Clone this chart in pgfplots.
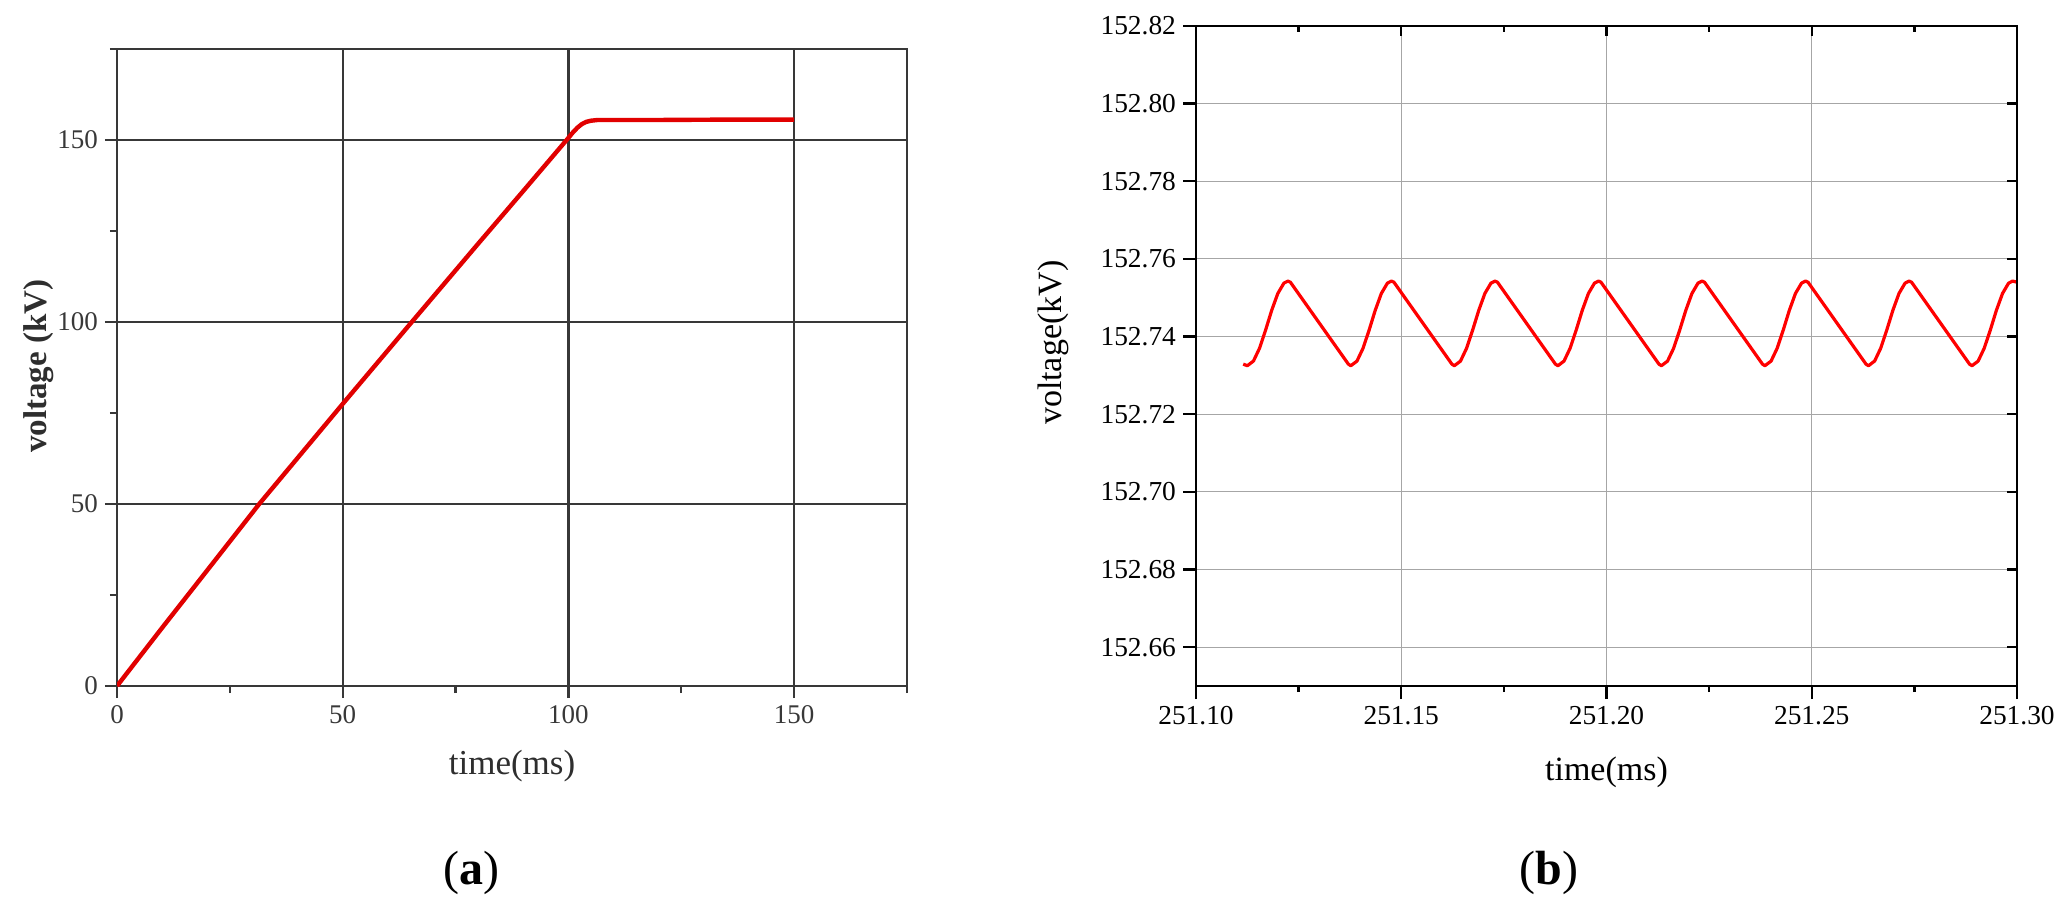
\documentclass[border=0pt]{standalone}
\usepackage{fontspec}
\setmainfont{Liberation Serif}
\usepackage{pgfplots}
\pgfplotsset{compat=1.18}
\begin{document}
\begin{tikzpicture}
\path[use as bounding box] (0,0) rectangle (1034pt,456pt);
% ---------------- (a) ----------------
\begin{axis}[
  at={(58.5pt,113pt)}, anchor=south west, scale only axis,
  width=395pt, height=318.5pt,
  xmin=0, xmax=175, ymin=0, ymax=175,
  xtick={0,50,100,150}, ytick={0,50,100,150},
  minor xtick={25,75,125,175}, minor ytick={25,75,125,175},
  xtick pos=left, ytick pos=left, tick align=outside,
  major tick length=6pt, minor tick length=3.5pt,
  grid=major,
  major grid style={line width=1.2pt, black!78},
  axis line style={line width=1.3pt, black!78},
  tick style={line width=1.2pt, black!78},
  /pgf/number format/assume math mode=true,
  tick label style={font=\fontsize{13.5}{15}\selectfont, text=black!78},
  xlabel={time(ms)},
  xlabel style={at={(axis description cs:0.5,-0.1256)}, anchor=center,
                font=\fontsize{17.5}{20}\selectfont, text=black!82},
  ylabel={\textbf{voltage (kV)}},
  ylabel style={at={(axis description cs:-0.0987,0.502)}, anchor=center,
                font=\fontsize{16.5}{20}\selectfont, text=black!82},
]
\addplot[color={rgb,255:red,225;green,0;blue,0}, line width=2.2pt] coordinates {
(0,0) (10,16) (20,31.8) (31.5,50) (50,77.5) (65.3,100) (80,121.5) (90,136)
(99.6,150) (101,152.1) (102,153.4) (103,154.4) (104,155.0) (105,155.3)
(106.5,155.5) (120,155.5) (135,155.6) (150,155.6)
};
\end{axis}
% ---------------- (b) ----------------
% time stored as (t - 251.10) ms, voltage as (V - 152.70) kV (ticks labelled with real values)
\begin{axis}[
  at={(598pt,113pt)}, anchor=south west, scale only axis,
  width=410.5pt, height=330pt,
  xmin=0, xmax=0.2, ymin=-0.05, ymax=0.12,
  xtick={0,0.05,0.1,0.15,0.2},
  xticklabels={251.10,251.15,251.20,251.25,251.30},
  minor xtick={0.025,0.075,0.125,0.175},
  ytick={-0.04,-0.02,0,0.02,0.04,0.06,0.08,0.1,0.12},
  yticklabels={152.66,152.68,152.70,152.72,152.74,152.76,152.78,152.80,152.82},
  xtick pos=left, ytick pos=left, tick align=outside,
  major tick length=6.5pt, minor tick length=3pt,
  grid=major,
  major grid style={line width=0.5pt, black!35},
  axis line style={line width=1.2pt, black},
  tick style={line width=1.2pt, black},
  tick label style={font=\fontsize{13.7}{16}\selectfont},
  xlabel={time(ms)},
  xlabel style={at={(axis description cs:0.5,-0.1303)}, anchor=center,
                font=\fontsize{17}{20}\selectfont},
  ylabel={voltage(kV)},
  ylabel style={at={(axis description cs:-0.1742,0.52)}, anchor=center,
                font=\fontsize{17}{20}\selectfont},
]
\addplot[color={rgb,255:red,255;green,0;blue,0}, line width=1.6pt, line join=round] coordinates {
(0.01150,0.03290)
(0.01250,0.03250) (0.01399,0.03369) (0.01547,0.03699) (0.01696,0.04170) (0.01844,0.04677) (0.01993,0.05111) (0.02141,0.05377) (0.02240,0.05430) (0.02300,0.05400) (0.03712,0.03290)
(0.03772,0.03250) (0.03921,0.03369) (0.04069,0.03699) (0.04218,0.04170) (0.04366,0.04677) (0.04515,0.05111) (0.04663,0.05377) (0.04762,0.05430) (0.04822,0.05400) (0.06234,0.03290)
(0.06294,0.03250) (0.06443,0.03369) (0.06591,0.03699) (0.06740,0.04170) (0.06888,0.04677) (0.07037,0.05111) (0.07185,0.05377) (0.07284,0.05430) (0.07344,0.05400) (0.08756,0.03290)
(0.08816,0.03250) (0.08965,0.03369) (0.09113,0.03699) (0.09262,0.04170) (0.09410,0.04677) (0.09559,0.05111) (0.09707,0.05377) (0.09806,0.05430) (0.09866,0.05400) (0.11278,0.03290)
(0.11338,0.03250) (0.11487,0.03369) (0.11635,0.03699) (0.11784,0.04170) (0.11932,0.04677) (0.12081,0.05111) (0.12229,0.05377) (0.12328,0.05430) (0.12388,0.05400) (0.13800,0.03290)
(0.13860,0.03250) (0.14009,0.03369) (0.14157,0.03699) (0.14306,0.04170) (0.14454,0.04677) (0.14603,0.05111) (0.14751,0.05377) (0.14850,0.05430) (0.14910,0.05400) (0.16322,0.03290)
(0.16382,0.03250) (0.16531,0.03369) (0.16679,0.03699) (0.16828,0.04170) (0.16976,0.04677) (0.17125,0.05111) (0.17273,0.05377) (0.17372,0.05430) (0.17432,0.05400) (0.18844,0.03290)
(0.18904,0.03250) (0.19053,0.03369) (0.19201,0.03699) (0.19350,0.04170) (0.19498,0.04677) (0.19647,0.05111) (0.19795,0.05377) (0.19894,0.05430) (0.20000,0.05400)
};
\end{axis}
% overlay for inward ticks on top and right of (b)
\begin{axis}[
  at={(598pt,113pt)}, anchor=south west, scale only axis,
  width=410.5pt, height=330pt,
  xmin=0, xmax=0.2, ymin=-0.05, ymax=0.12,
  xtick={0,0.05,0.1,0.15,0.2},
  minor xtick={0.025,0.075,0.125,0.175},
  ytick={-0.04,-0.02,0,0.02,0.04,0.06,0.08,0.1,0.12},
  xticklabels={}, yticklabels={},
  xtick pos=right, ytick pos=right, tick align=inside,
  major tick length=5pt, minor tick length=3pt,
  axis line style={line width=1.2pt, black},
  tick style={line width=1.2pt, black},
]
\end{axis}
\node[font=\fontsize{24}{28}\selectfont] at (235.5pt,19.5pt) {(\textbf{a})};
\node[font=\fontsize{24}{28}\selectfont] at (774.5pt,19.5pt) {(\textbf{b})};
\end{tikzpicture}
\end{document}
